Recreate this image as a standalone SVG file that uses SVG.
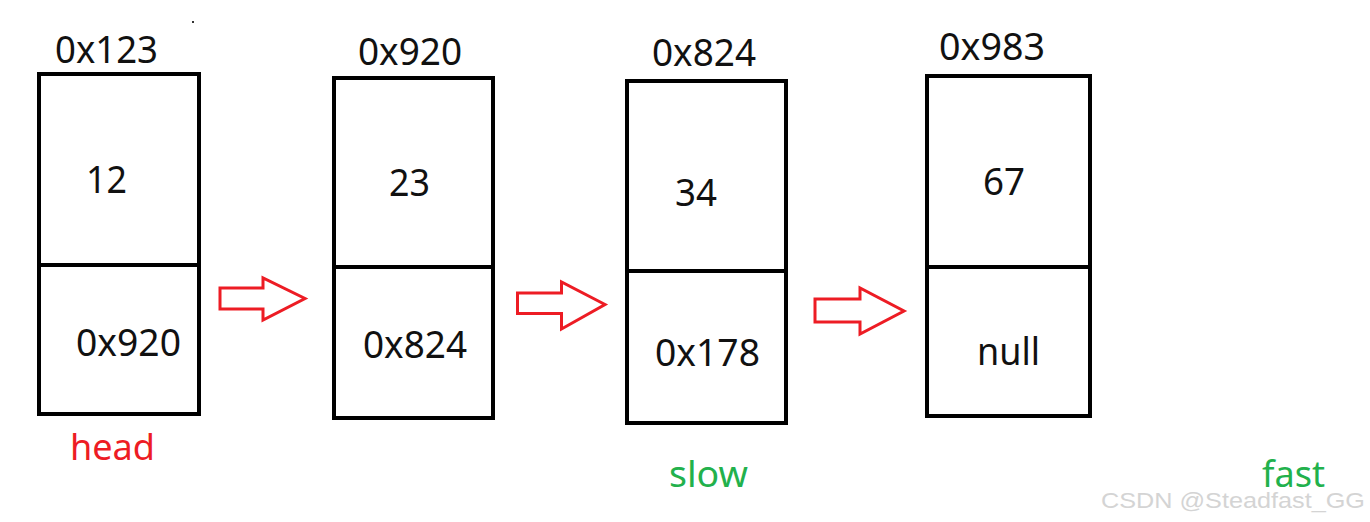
<svg xmlns="http://www.w3.org/2000/svg" width="1370" height="522" viewBox="0 0 1370 522">
<style>
.box{fill:#fff;stroke:#000;stroke-width:4}
.div{stroke:#000;stroke-width:4}
.t{font-family:"Noto Sans","Open Sans","Liberation Sans",sans-serif;font-size:38px;fill:#111}
.arrow{fill:#fff;stroke:#ed1c24;stroke-width:3;stroke-linejoin:miter}
.red{font-family:"Noto Sans","Open Sans","Liberation Sans",sans-serif;font-size:37px;fill:#ed1c24}
.green{font-family:"Noto Sans","Open Sans","Liberation Sans",sans-serif;font-size:37px;fill:#22b14c}
.wm{font-family:"Liberation Sans","DejaVu Sans",sans-serif;font-size:22px;fill:#d4d4d4}
</style>
<rect width="1370" height="522" fill="#fff"/>
<rect x="192" y="21" width="2" height="2" fill="#333"/>
<g id="node1">
<rect class="box" x="39" y="74" width="160" height="340"/>
<line class="div" x1="39" y1="265" x2="199" y2="265"/>
<text class="t" x="55" y="63" textLength="103" lengthAdjust="spacingAndGlyphs">0x123</text>
<text class="t" x="86" y="193" textLength="41" lengthAdjust="spacingAndGlyphs">12</text>
<text class="t" x="76" y="356" textLength="105" lengthAdjust="spacingAndGlyphs">0x920</text>
</g>
<g id="node2">
<rect class="box" x="334" y="78" width="159" height="340"/>
<line class="div" x1="334" y1="267" x2="493" y2="267"/>
<text class="t" x="358" y="65" textLength="104" lengthAdjust="spacingAndGlyphs">0x920</text>
<text class="t" x="389" y="196" textLength="41" lengthAdjust="spacingAndGlyphs">23</text>
<text class="t" x="363" y="358" textLength="104" lengthAdjust="spacingAndGlyphs">0x824</text>
</g>
<g id="node3">
<rect class="box" x="627" y="81" width="159" height="342"/>
<line class="div" x1="627" y1="271" x2="786" y2="271"/>
<text class="t" x="652" y="66" textLength="104" lengthAdjust="spacingAndGlyphs">0x824</text>
<text class="t" x="675" y="206" textLength="42" lengthAdjust="spacingAndGlyphs">34</text>
<text class="t" x="655" y="366" textLength="105" lengthAdjust="spacingAndGlyphs">0x178</text>
</g>
<g id="node4">
<rect class="box" x="927" y="76" width="163" height="340"/>
<line class="div" x1="927" y1="267" x2="1090" y2="267"/>
<text class="t" x="939" y="60" textLength="106" lengthAdjust="spacingAndGlyphs">0x983</text>
<text class="t" x="983" y="195" font-size="40" textLength="42" lengthAdjust="spacingAndGlyphs">67</text>
<text class="t" x="977" y="365" textLength="63" lengthAdjust="spacingAndGlyphs">null</text>
</g>
<g id="connectors">
<polygon class="arrow" points="220,288 263,288 263,278 305,298.5 263,320 263,309 220,309"/>
<polygon class="arrow" points="517.5,293 561.5,293 561.5,282 605,304.5 561.5,329 561.5,313.5 517.5,313.5"/>
<polygon class="arrow" points="815,299 860,299 860,288 904,311 860,334 860,322 815,322"/>
</g>
<g id="labels">
<text class="red" x="70" y="460" textLength="85" lengthAdjust="spacingAndGlyphs">head</text>
<text class="green" x="669" y="487" textLength="79" lengthAdjust="spacingAndGlyphs">slow</text>
<text class="green" x="1262" y="487" textLength="63" lengthAdjust="spacingAndGlyphs">fast</text>
<text class="wm" x="1101" y="508" textLength="264" lengthAdjust="spacingAndGlyphs">CSDN @Steadfast_GG</text>
</g>
</svg>
